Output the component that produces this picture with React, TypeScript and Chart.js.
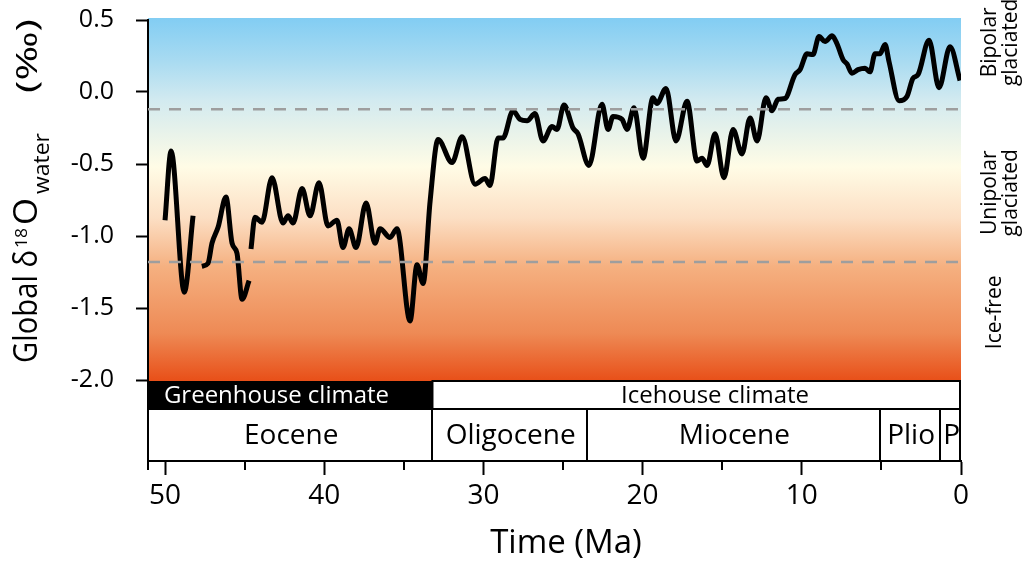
import { useEffect, useRef } from 'react';
import { Chart, registerables } from 'chart.js';

Chart.register(...registerables);

const FONT = "'Open Sans', 'Noto Sans', sans-serif";

// Global seawater δ18O record, age in Ma; a null value marks a break in the record
const ageMa = [
  50.0, 49.62, 48.79, 48.24,
  47.95,
  47.69, 47.3, 47.05, 46.67, 46.17, 45.79, 45.48, 45.16, 44.72,
  44.66,
  44.6, 44.35, 43.91, 43.28, 42.59, 42.27, 41.96, 41.39, 40.89, 40.33,
  39.76, 39.2, 38.82, 38.44, 38.0, 37.37, 36.81, 36.49, 35.87, 35.43,
  34.61, 34.17, 33.79, 33.35, 32.85, 31.97, 31.34, 30.53, 29.9, 29.59,
  29.08, 28.77, 28.14, 27.7, 27.26, 26.76, 26.26, 25.69, 25.38, 24.94,
  24.37, 24.06, 23.37, 22.55, 22.17, 21.86, 21.29, 20.98, 20.54, 19.97,
  19.35, 19.1, 18.53, 17.9, 17.21, 16.58, 16.27, 15.95, 15.45, 14.89,
  14.32, 13.76, 13.25, 12.81, 12.25, 11.87, 11.49, 11.06, 10.43, 10.11,
  9.67, 9.3, 8.92, 8.54, 8.1, 7.79, 7.41, 7.16, 6.85, 6.47,
  6.03, 5.72, 5.4, 5.09, 4.77, 4.52, 3.89, 3.39, 3.02, 2.7,
  2.01, 1.38, 0.69, 0.06,
];
const d18O = [
  -0.89, -0.41, -1.39, -0.86,
  null,
  -1.21, -1.19, -1.05, -0.94, -0.73, -1.05, -1.12, -1.44, -1.31,
  null,
  -1.09, -0.87, -0.905, -0.595, -0.91, -0.86, -0.91, -0.67, -0.86, -0.63,
  -0.93, -0.89, -1.08, -0.95, -1.08, -0.77, -1.05, -0.95, -1.01, -0.95,
  -1.59, -1.2, -1.33, -0.76, -0.33, -0.49, -0.31, -0.64, -0.6, -0.65,
  -0.32, -0.32, -0.13, -0.19, -0.2, -0.15, -0.34, -0.24, -0.26, -0.09,
  -0.25, -0.29, -0.51, -0.085, -0.26, -0.17, -0.19, -0.26, -0.11, -0.46,
  -0.04, -0.08, 0.025, -0.34, -0.065, -0.48, -0.46, -0.51, -0.29, -0.595,
  -0.26, -0.43, -0.18, -0.34, -0.04, -0.13, -0.05, -0.045, 0.12, 0.155,
  0.265, 0.26, 0.385, 0.35, 0.39, 0.335, 0.225, 0.195, 0.13, 0.155,
  0.165, 0.14, 0.265, 0.265, 0.33, 0.21, -0.06, -0.03, 0.095, 0.12,
  0.36, 0.03, 0.315, 0.08,
];

// Ice-volume thresholds (‰)
const thresholds = [-0.12, -1.18];

// Axis extents and ticks
const oldestMa = 51.07;
const yTop = 0.5;
const yFloor = -2.0;
const yAxisMin = -2.5625;
const xTicks = [50, 40, 30, 20, 10, 0];
const xMinorTicks = [45, 35, 25, 15, 5];
const yTicks = [0.5, 0.0, -0.5, -1.0, -1.5, -2.0];

// Climate states and epochs (boundaries in Ma)
const climateNames = ['Greenhouse climate', 'Icehouse climate'];
const climateBounds = [oldestMa, 33.2, 0];
const climateLabelAt = [43.0, 15.45];
const epochNames = ['Eocene', 'Oligocene', 'Miocene', 'Plio', 'P'];
const epochBounds = [oldestMa, 33.2, 23.5, 5.1, 1.3, 0];

// Glaciation state bands on the right
const zoneLabels = [['Bipolar', 'glaciated'], ['Unipolar', 'glaciated'], ['Ice-free']];
const zoneCenters = [0.345, -0.7, -1.53];

// Draws text rotated a quarter turn, its baseline starting at (x, y) and running upward for len px
function drawFitted(ctx: CanvasRenderingContext2D, text: string, size: number, x: number, y: number, len: number) {
  ctx.save();
  ctx.font = `${size}px ${FONT}`;
  const w = ctx.measureText(text).width;
  ctx.translate(x, y);
  ctx.rotate(-Math.PI / 2);
  ctx.scale(len / w, 1);
  ctx.textAlign = 'left';
  ctx.textBaseline = 'alphabetic';
  ctx.fillStyle = '#000';
  ctx.fillText(text, 0, 0);
  ctx.restore();
}

const decor = {
  id: 'decor',
  beforeDraw(chart: any) {
    const { ctx, scales } = chart;
    const x = scales.x;
    const y = scales.y;
    ctx.save();
    ctx.fillStyle = '#fff';
    ctx.fillRect(0, 0, chart.width, chart.height);
    const top = y.getPixelForValue(yTop) - 2;
    const bot = y.getPixelForValue(yFloor) + 1;
    const left = x.getPixelForValue(oldestMa);
    const right = x.getPixelForValue(0);
    const g = ctx.createLinearGradient(0, top, 0, bot);
    g.addColorStop(0, '#82cdf3');
    g.addColorStop(0.12, '#a9dbf1');
    g.addColorStop(0.226, '#d2eaf0');
    g.addColorStop(0.32, '#e9f3ea');
    g.addColorStop(0.41, '#fffce6');
    g.addColorStop(0.55, '#fcdfc4');
    g.addColorStop(0.686, '#f5b080');
    g.addColorStop(0.868, '#ee8a55');
    g.addColorStop(1, '#e84f18');
    ctx.fillStyle = g;
    ctx.fillRect(left, top, right - left, bot - top);
    ctx.restore();
  },
  afterDraw(chart: any) {
    const { ctx, scales, chartArea } = chart;
    const x = scales.x;
    const y = scales.y;
    const left = x.getPixelForValue(oldestMa);
    const right = x.getPixelForValue(0);
    const b0 = y.getPixelForValue(yFloor) + 1;
    const b1 = b0 + 28;
    const b2 = chartArea.bottom;
    ctx.save();

    // climate bar
    const cx = climateBounds.map((v) => x.getPixelForValue(v));
    ctx.fillStyle = '#000';
    ctx.fillRect(cx[0], b0, cx[1] - cx[0], b1 - b0);
    ctx.fillStyle = '#fff';
    ctx.fillRect(cx[1], b0, cx[2] - cx[1], b1 - b0);
    ctx.strokeStyle = '#000';
    ctx.lineWidth = 2;
    ctx.strokeRect(cx[1], b0, cx[2] - cx[1] - 1, b1 - b0);
    ctx.font = `24px ${FONT}`;
    ctx.textAlign = 'center';
    ctx.textBaseline = 'alphabetic';
    ctx.fillStyle = '#fff';
    ctx.fillText(climateNames[0], x.getPixelForValue(climateLabelAt[0]), b0 + 22);
    ctx.fillStyle = '#000';
    ctx.fillText(climateNames[1], x.getPixelForValue(climateLabelAt[1]), b0 + 22);

    // epoch bar
    ctx.beginPath();
    ctx.rect(left, b1, right - left - 1, b2 - b1);
    epochBounds.slice(1, -1).forEach((v) => {
      const px = Math.round(x.getPixelForValue(v));
      ctx.moveTo(px, b1);
      ctx.lineTo(px, b2);
    });
    ctx.stroke();
    ctx.font = `28px ${FONT}`;
    ctx.fillStyle = '#000';
    epochNames.forEach((name, i) => {
      const mid = (x.getPixelForValue(epochBounds[i]) + x.getPixelForValue(epochBounds[i + 1])) / 2;
      ctx.fillText(name, mid + 1, b2 - 17);
    });

    // minor ticks on the time axis
    ctx.beginPath();
    [...xMinorTicks, oldestMa].forEach((v) => {
      const px = Math.round(x.getPixelForValue(v));
      ctx.moveTo(px, b2);
      ctx.lineTo(px, b2 + 9);
    });
    ctx.stroke();

    // axis titles
    ctx.font = `33px ${FONT}`;
    ctx.textAlign = 'center';
    ctx.fillText('Time (Ma)', 566, 553);

    drawFitted(ctx, 'Global δ', 33, 37, 363, 113);
    drawFitted(ctx, '18', 17, 27, 248, 20);
    drawFitted(ctx, 'O', 33, 37, 225, 27);
    drawFitted(ctx, 'water', 21, 49, 194, 61);
    drawFitted(ctx, '(‰)', 29, 37, 93, 74);

    // glaciation state labels
    ctx.font = `21px ${FONT}`;
    ctx.textBaseline = 'middle';
    const cols = [[29, 50], [29, 50], [34]];
    zoneLabels.forEach((lines, i) => {
      const py = y.getPixelForValue(zoneCenters[i]);
      lines.forEach((t, j) => {
        ctx.save();
        ctx.translate(chartArea.right + cols[i][j], py);
        ctx.rotate(-Math.PI / 2);
        ctx.fillText(t, 0, 0);
        ctx.restore();
      });
    });
    ctx.restore();
  },
};

export default function App() {
  const ref = useRef<HTMLCanvasElement>(null);

  useEffect(() => {
    if (!ref.current) return;
    const points = ageMa.map((a, i) => ({ x: a, y: d18O[i] }));
    const chart = new Chart(ref.current, {
      type: 'line',
      data: {
        datasets: [
          ...thresholds.map((t) => ({
            data: [{ x: oldestMa, y: t }, { x: 0, y: t }],
            borderColor: '#9e9e9e',
            borderWidth: 2.5,
            borderDash: [12, 9],
            pointRadius: 0,
            tension: 0,
          })),
          {
            data: points,
            borderColor: '#000',
            borderWidth: 5,
            pointRadius: 0,
            spanGaps: false,
            cubicInterpolationMode: 'monotone' as const,
            borderJoinStyle: 'round' as const,
          },
        ],
      },
      options: {
        responsive: false,
        animation: false,
        events: [],
        layout: { padding: { left: 0, right: 66, top: 20, bottom: 0 } },
        plugins: { legend: { display: false }, tooltip: { enabled: false } },
        scales: {
          x: {
            type: 'linear',
            reverse: true,
            min: 0,
            max: oldestMa,
            afterBuildTicks: (s: any) => {
              s.ticks = xTicks.map((v) => ({ value: v }));
            },
            afterFit: (s: any) => {
              s.height = 102;
              s.paddingLeft = 0;
              s.paddingRight = 0;
            },
            grid: { drawOnChartArea: false, tickLength: 14, tickWidth: 2, tickColor: '#000' },
            border: { display: true, color: '#000', width: 2 },
            ticks: {
              font: { family: FONT, size: 28 },
              color: '#000',
              padding: 4,
              maxRotation: 0,
              autoSkip: false,
              callback: (v: any) => String(v),
            },
          },
          y: {
            type: 'linear',
            min: yAxisMin,
            max: yTop,
            afterBuildTicks: (s: any) => {
              s.ticks = yTicks.map((v) => ({ value: v }));
            },
            afterFit: (s: any) => {
              s.width = 148;
              s.paddingTop = 0;
              s.paddingBottom = 0;
            },
            grid: { drawOnChartArea: false, tickLength: 12, tickWidth: 2, tickColor: '#000' },
            border: { display: true, color: '#000', width: 2 },
            ticks: {
              font: { family: FONT, size: 25 },
              color: '#000',
              padding: 22,
              autoSkip: false,
              callback: (v: any) => Number(v).toFixed(1),
            },
          },
        },
      },
      plugins: [decor],
    });
    return () => chart.destroy();
  }, []);

  return (
    <div style={{ position: 'fixed', left: 0, top: 0, width: 1027, height: 563, background: '#fff' }}>
      <canvas ref={ref} width={1027} height={563} style={{ width: 1027, height: 563 }} />
    </div>
  );
}
